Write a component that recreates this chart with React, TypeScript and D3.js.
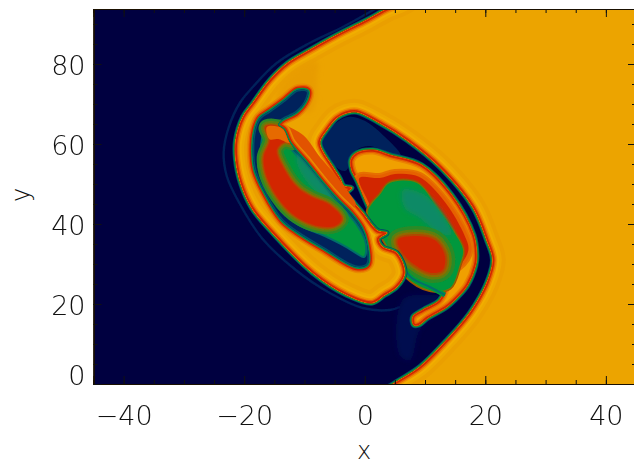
import React, { useEffect, useRef } from 'react';
import * as d3 from 'd3';

// contours of the field, in plot units [x, y]
type Pt = [number, number];

const majorTicksX = [-40, -20, 0, 20, 40];
const minorTicksX = d3.range(-45, 46, 5);
const majorTicksY = [0, 20, 40, 60, 80];
const minorTicksY = d3.range(0, 95, 5);

const orangeFront: Pt[] = [
  [6.97, 96], [3.65, 93.75], [0.33, 91], [-4.64, 87.25], [-9.12, 83.5], [-12.77, 80.25], [-15.75, 76],
  [-18.57, 70.25], [-20.23, 66.75], [-21.4, 61], [-21.4, 56], [-20.6, 50.25], [-18.74, 44],
  [-15.75, 38.5], [-8.62, 27.75], [-2.99, 22.25], [1.16, 20.25], [3.32, 22.25], [5.31, 24.25],
  [6.63, 27.75], [5.31, 32.75], [2.99, 34.25], [2.32, 36.25], [3.65, 37.75], [2.16, 38.25],
  [1.16, 39.75], [-0.33, 42.75], [-2.16, 46], [-2.99, 47.75], [-2.16, 49], [-3.48, 49.5], [-4.15, 51.5],
  [-5.31, 54.25], [-7.46, 60.25], [-6.3, 63.5], [-4.64, 66.5], [-2.99, 67.75], [-1.33, 68],
  [2.49, 65.25], [6.97, 61], [12.44, 54.25], [17.91, 44.25], [20.23, 36], [21.23, 31], [20.23, 25.25],
  [17.41, 17.75], [13.6, 11], [9.12, 4.25], [4.98, 0.25], [0.83, -4], [22, -9], [60, -10], [60, 110], [12, 105],
];
const outerRing: Pt[] = [
  [2, 94], [-3.65, 89.25], [-9.12, 85.25], [-14.6, 80.25], [-18.57, 74.25], [-20.73, 70.25], [-22.6, 64],
  [-23.4, 58], [-22.9, 52], [-20.9, 45.5], [-17.08, 36.5], [-11.44, 28.5], [-5.8, 22.75], [-0.33, 19], [4.15, 18.5], [5.8, 19.25],
];
const leftPocket: Pt[] = [
  [-9.45, 73.25], [-11.11, 73.5], [-13.27, 71], [-15.75, 68.25], [-17.41, 66.5], [-18.24, 63.5], [-18.57, 58.5],
  [-18.24, 53.5], [-16.58, 47.75], [-13.76, 41], [-11.28, 38], [-6.97, 34], [-1.33, 29.25], [0.5, 30],
  [0.33, 35.25], [-0.5, 39], [-2.16, 42.5], [-4.48, 46], [-6.97, 50.25], [-9.62, 55.25], [-12.44, 60.25],
  [-13.43, 63.5], [-14.43, 64.75], [-13.76, 66], [-11.28, 68], [-9.62, 71.25],
];
const leftCore: Pt[] = [
  [-16.42, 63.5], [-17.08, 58.5], [-16.75, 53], [-14.76, 46.5], [-11.44, 40.5], [-6.63, 37.25], [-3.32, 34.75],
  [-1.16, 32.75], [-0.17, 32], [0, 35.25], [-1.16, 39], [-2.82, 42.25], [-5.14, 45.5], [-7.46, 49.75],
  [-10.12, 54.75], [-12.77, 59.5], [-14.1, 63.5], [-15.42, 64.5],
];
const leftTeal: Pt[] = [
  [-11.5, 58], [-9, 54], [-6.5, 49.5], [-4, 44.5], [-3, 41.5], [-5, 44], [-8, 48], [-10.5, 52.5],
];
const leftRedLayer: Pt[] = [
  [-16.42, 64.25], [-15.75, 61], [-16.75, 56.75], [-16.25, 51.75], [-13.76, 45.25], [-11.28, 41.75],
  [-7.79, 39.5], [-4.98, 39.5], [-3.81, 41.25], [-5.8, 44.75], [-8.79, 46.75], [-11.1, 49], [-13.1, 53],
  [-14.6, 58.5], [-13.3, 60.5], [-12, 60.25], [-13.6, 64],
];
const leftRidge: Pt[] = [
  [-16.25, 64.25], [-13.6, 64], [-11.6, 61], [-12.4, 60.2], [-14.2, 61.2], [-15.8, 61.2],
];
const midRedLine: Pt[] = [
  [-14.5, 64], [-13.3, 63.2], [-10.8, 61], [-8.3, 56], [-5.2, 50.5], [-2.5, 45],
];
const tongueHalo: Pt[] = [
  [-7.8, 80.5], [-9.6, 80.25], [-13.6, 75.25], [-14.6, 71], [-9, 68], [-7.96, 71.75], [-7.96, 76],
];
const crescentBlue: Pt[] = [
  [-7.46, 59.75], [-5.5, 64], [-2.8, 66.5], [0, 65.5], [3.3, 61.5], [5.8, 57.25], [0.83, 59.75], [-1.66, 58.5], [-3.3, 53.5],
];
const lowerPatch: Pt[] = [
  [6.3, 21], [10.8, 22.25], [14, 21], [9.12, 13.5], [7.5, 6], [5.8, 7.25],
];
const rightRing: Pt[] = [
  [-2.16, 53.5], [-2.32, 56], [-1.33, 57.75], [1.33, 58.5], [4.15, 57.25], [9.45, 54.75], [14.43, 47.25], [18.08, 37.25],
  [18.57, 32.25], [18.41, 29.75], [17.08, 24.75], [15.42, 21.75], [13.6, 19.25], [10.45, 16.5], [8.96, 14.75],
  [8.13, 14.75], [7.96, 16.75], [9.62, 18.5], [12.44, 21], [13.27, 25], [10, 26.5], [6.63, 29.75],
  [4, 35], [1, 43], [-1.33, 51],
];
const rightRedBand: Pt[] = [
  [-0.9, 51.5], [2.5, 51.5], [5, 52.5], [9, 51.8], [13.3, 45.5], [16.6, 37], [17.2, 33.5], [15.5, 29.5],
  [10, 27], [5, 33], [2, 39], [0.83, 44.75],
];
const rightCore: Pt[] = [
  [4.15, 50.25], [8.62, 50.25], [11.9, 44.25], [14.9, 37.75], [16.3, 33.5], [15.75, 29.75], [14.1, 24],
  [10.78, 23.5], [6.63, 27.25], [4.15, 33.5], [2.16, 38.5], [0.5, 43], [1.16, 45], [2.49, 47.25],
];
const rightTeal: Pt[] = [
  [6.3, 48.5], [9.95, 47.25], [13.27, 41.5], [14.43, 37.25], [12.1, 38], [9.12, 41.5], [6.63, 44],
];
const rightRedCore: Pt[] = [
  [5.47, 36], [8.29, 37], [11.6, 36], [13.27, 32.25], [12.94, 28.5], [11.11, 27.75], [8.29, 29.75], [6.14, 33],
];
const rightFilament: Pt[] = [
  [5.8, 30.5], [7.8, 26.5], [10.8, 24.25], [13.3, 22.25],
];

const C = {
  navy: '#000040',
  blue: '#00225c',
  teal: '#00706a',
  green: '#00983c',
  olive: '#7d7400',
  red: '#d22800',
  orangeRed: '#e66000',
  orange: '#eca400',
};

const W = 634;
const H = 464;
const x = d3.scaleLinear().domain([-45, 45]).range([93.5, 636]);
const y = d3.scaleLinear().domain([0, 93.75]).range([384, 9]);

const closed = d3.line<Pt>().x(d => x(d[0])).y(d => y(d[1])).curve(d3.curveCatmullRomClosed.alpha(0.5));
const open = d3.line<Pt>().x(d => x(d[0])).y(d => y(d[1])).curve(d3.curveCatmullRom.alpha(0.5));

type Ramp = [number, string][];

// a contour filled, with colour ramps stroked either side of its edge
function Band({ id, pts, fill, outer = [], inner = [] }: { id: string; pts: Pt[]; fill: string; outer?: Ramp; inner?: Ramp }) {
  const d = closed(pts) || '';
  return (
    <g>
      {outer.map(([w, c], i) => <path key={i} d={d} fill="none" stroke={c} strokeWidth={w} strokeLinejoin="round" />)}
      <path d={d} fill={fill} />
      <clipPath id={id}><path d={d} /></clipPath>
      <g clipPath={`url(#${id})`}>
        {inner.map(([w, c], i) => <path key={i} d={d} fill="none" stroke={c} strokeWidth={w} strokeLinejoin="round" />)}
      </g>
    </g>
  );
}

const darkEdge: Ramp = [[12, '#e88a00'], [9, C.orangeRed], [6.5, C.red], [3.4, C.green], [1.5, C.teal]];
const lightEdge: Ramp = [[5.5, '#004868'], [3.8, C.green], [1.6, '#b04000']];

export default function App() {
  const axes = useRef<SVGGElement>(null);

  useEffect(() => {
    const g = d3.select(axes.current);
    g.selectAll('*').remove();
    const fmt = d3.format('d');
    const add = (axis: any, tx: number, ty: number) =>
      g.append('g').attr('transform', `translate(${tx},${ty})`).call(axis);

    add(d3.axisBottom(x).tickValues(minorTicksX).tickSize(-4).tickFormat(() => ''), 0, 384);
    add(d3.axisTop(x).tickValues(minorTicksX).tickSize(-4).tickFormat(() => ''), 0, 9);
    add(d3.axisLeft(y).tickValues(minorTicksY).tickSize(-4).tickFormat(() => ''), 93.5, 0);
    add(d3.axisRight(y).tickValues(minorTicksY).tickSize(-4).tickFormat(() => ''), 636, 0);
    add(d3.axisTop(x).tickValues(majorTicksX).tickSize(-8).tickFormat(() => ''), 0, 9);
    add(d3.axisRight(y).tickValues(majorTicksY).tickSize(-8).tickFormat(() => ''), 636, 0);
    add(d3.axisBottom(x).tickValues(majorTicksX).tickSize(-8).tickPadding(22).tickFormat(fmt as any), 0, 384);
    const left = add(d3.axisLeft(y).tickValues(majorTicksY).tickSize(-8).tickPadding(8).tickFormat(fmt as any), 93.5, 0);
    // labels sit just under their ticks, the zero one well above
    left.selectAll('.tick text').attr('y', 2);
    left.selectAll('.tick text').filter((d: any) => d === 0).attr('y', -8);

    g.selectAll('.domain').attr('stroke', '#1a1000').attr('stroke-width', 1.2);
    g.selectAll('.tick line').attr('stroke', '#111').attr('stroke-width', 1);
    g.selectAll('text')
      .attr('font-family', "'DejaVu Sans'")
      .attr('font-weight', 200)
      .attr('font-size', 27)
      .attr('fill', '#111');
  }, []);

  return (
    <svg width={W} height={H} style={{ position: 'absolute', left: 0, top: 0 }}>
      <defs>
        <clipPath id="plot"><rect x={93.5} y={9} width={541} height={375} /></clipPath>
        <filter id="soft" x="-5%" y="-5%" width="110%" height="110%"><feGaussianBlur stdDeviation={0.6} /></filter>
        <filter id="softer" x="-30%" y="-30%" width="160%" height="160%"><feGaussianBlur stdDeviation={2.5} /></filter>
      </defs>
      <g clipPath="url(#plot)">
        <rect x={93.5} y={9} width={541} height={375} fill={C.navy} />
        <g filter="url(#soft)">
          <path d={open(outerRing) || ''} fill="none" stroke="#04205a" strokeWidth={2.4} />
          <path d={closed(lowerPatch) || ''} fill="#001050" filter="url(#softer)" />
          <path d={closed(crescentBlue) || ''} fill={C.blue} stroke="#00225c" strokeWidth={2} />

          <Band id="c1" pts={rightRing} fill="#f0a000" outer={lightEdge} inner={[[9, '#ea8400'], [6, C.orangeRed], [3.5, C.red]]} />
          <g clipPath="url(#c1)">
            <Band id="c2" pts={rightRedBand} fill={C.red} outer={[[10, '#e67000'], [6, C.orangeRed]]} />
          </g>
          <Band id="c3" pts={rightCore} fill={C.green} outer={[[4, '#a05000'], [2, C.olive]]} />
          <path d={closed(rightTeal) || ''} fill="#0a8a66" filter="url(#softer)" />
          <Band id="c4" pts={rightRedCore} fill={C.red} outer={[[20, '#2a8a28'], [13, '#5f7e10'], [8, '#8f6a00'], [4, '#b04800']]} />
          <path d={open(rightFilament) || ''} fill="none" stroke={C.green} strokeWidth={5} />
          <path d={open(rightFilament) || ''} fill="none" stroke={C.teal} strokeWidth={2} />

          <Band
            id="c5"
            pts={orangeFront}
            fill={C.orange}
            outer={lightEdge}
            inner={[[26, '#ea9f00'], [18, '#eda800'], [13, '#f1ae00'], [9, '#ee9000'], [6, C.orangeRed], [3.5, C.red]]}
          />
          <path d={closed(tongueHalo) || ''} fill="#e89c00" filter="url(#softer)" />
          <path d={open(midRedLine) || ''} fill="none" stroke="#e25200" strokeWidth={12} strokeLinecap="round" />

          <Band id="c6" pts={leftPocket} fill={C.blue} outer={darkEdge} inner={[[3, '#005268']]} />
          <g clipPath="url(#c6)">
            <Band id="c7" pts={leftCore} fill={C.green} outer={[[4, C.teal]]} />
            <path d={closed(leftTeal) || ''} fill="#0a8a66" filter="url(#softer)" />
            <Band id="c8" pts={leftRedLayer} fill={C.red} outer={[[14, '#2c8a28'], [9, '#5f7e10'], [5, '#8f6a00'], [2.5, '#b84400']]} />
            <path d={closed(leftRidge) || ''} fill="#e66a00" />
          </g>
        </g>
      </g>
      <g ref={axes} />
      <text x={364} y={459} textAnchor="middle" fontFamily="'DejaVu Sans'" fontWeight={200} fontSize={24} fill="#111">x</text>
      <text transform="translate(29,195) rotate(-90)" textAnchor="middle" fontFamily="'DejaVu Sans'" fontWeight={200} fontSize={24} fill="#111">y</text>
    </svg>
  );
}
